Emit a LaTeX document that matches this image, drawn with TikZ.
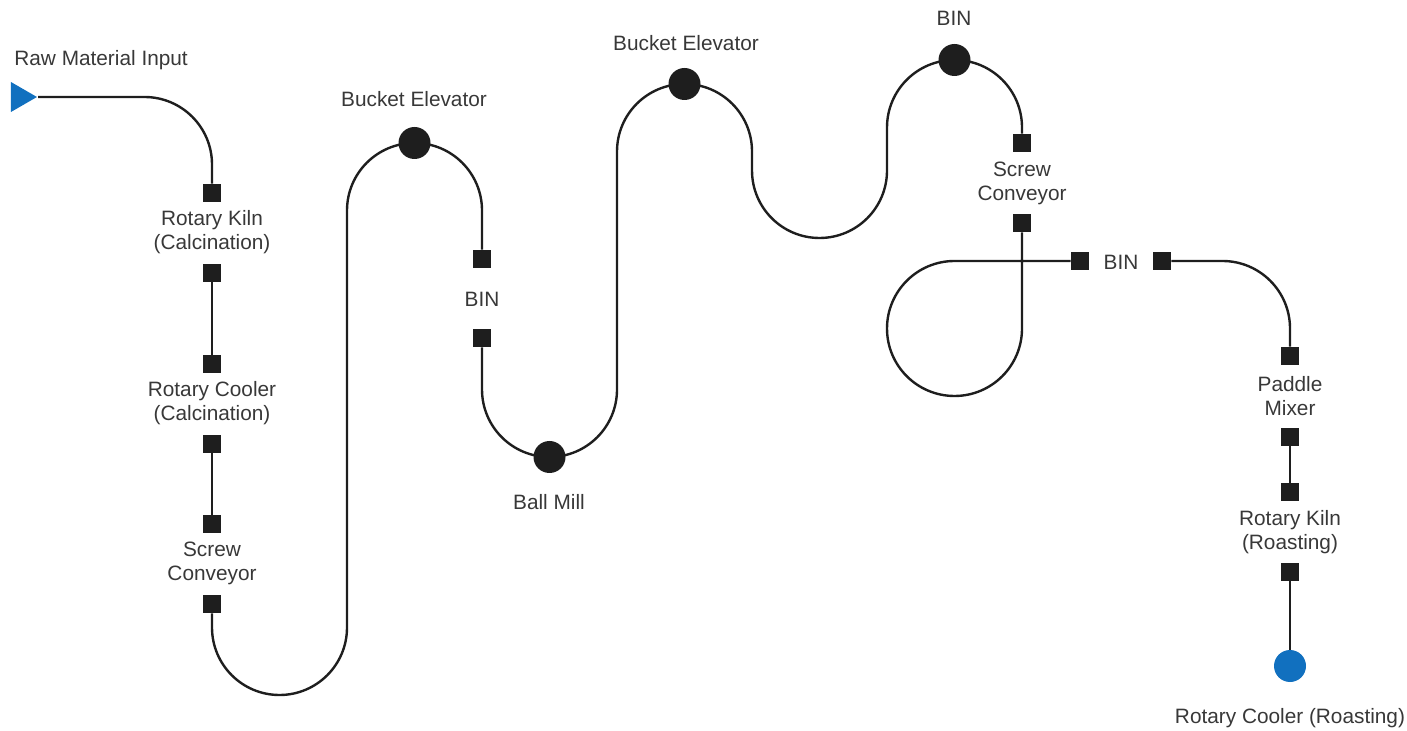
\documentclass[tikz,border=0pt]{standalone}
\usepackage{fontspec}
\setmainfont{Liberation Sans}
\usetikzlibrary{shapes.geometric}
\definecolor{ink}{HTML}{1E1E1E}
\definecolor{txt}{HTML}{383838}
\definecolor{flowblue}{HTML}{1170BF}
\begin{document}
\begin{tikzpicture}[x=0.5pt, y=-0.5pt,
	port/.style={rectangle, fill=ink, minimum size=9pt, inner sep=0pt},
	unit/.style={circle, fill=ink, minimum size=16pt, inner sep=0pt},
	lbl/.style={text=txt, align=center, inner sep=0pt, font=\fontsize{10.4}{12}\selectfont},
	flow/.style={draw=ink, line width=1.2pt, rounded corners=33.75pt}]
	\useasboundingbox (0,0) rectangle (1407,731);
	\node [isosceles triangle, isosceles triangle stretches, fill=flowblue,
	       minimum width=15pt, minimum height=13pt, inner sep=0pt, anchor=apex] (inp) at (38,97) {};
	\node [lbl, anchor=west] (inplbl) at (14,60) {Raw Material Input};
	\node [port] (kilnA) at (212,193) {};
	\node [lbl]  (kilnlbl) at (212,232) {Rotary Kiln\\(Calcination)};
	\node [port] (kilnB) at (212,273) {};
	\node [port] (coolA) at (212,364) {};
	\node [lbl]  (coollbl) at (212,403) {Rotary Cooler\\(Calcination)};
	\node [port] (coolB) at (212,444) {};
	\node [port] (scrA) at (212,524) {};
	\node [lbl]  (scrlbl) at (212,563) {Screw\\Conveyor};
	\node [port] (scrB) at (212,604) {};
	\node [unit] (elevA) at (414.5,143) {};
	\node [lbl]  (elevAlbl) at (414,99) {Bucket Elevator};
	\node [port] (binA) at (482,259) {};
	\node [lbl]  (binAlbl) at (482,299) {BIN};
	\node [port] (binB) at (482,338) {};
	\node [unit] (mill) at (549.5,457) {};
	\node [lbl]  (milllbl) at (549,502) {Ball Mill};
	\node [unit] (elevB) at (684.5,84) {};
	\node [lbl]  (elevBlbl) at (686,43) {Bucket Elevator};
	\node [unit] (binC) at (954.5,60) {};
	\node [lbl]  (binClbl) at (954,18) {BIN};
	\node [port] (scrC) at (1022,143) {};
	\node [lbl]  (scrClbl) at (1022,183) {Screw\\Conveyor};
	\node [port] (scrD) at (1022,223) {};
	\node [port] (binD) at (1080,261) {};
	\node [lbl]  (binDlbl) at (1121,262) {BIN};
	\node [port] (binE) at (1162,261) {};
	\node [port] (mixA) at (1290,356) {};
	\node [lbl]  (mixlbl) at (1290,396) {Paddle\\Mixer};
	\node [port] (mixB) at (1290,437) {};
	\node [port] (roastA) at (1290,492) {};
	\node [lbl]  (roastlbl) at (1290,532) {Rotary Kiln\\(Roasting)};
	\node [port] (roastB) at (1290,572) {};
	\node [circle, fill=flowblue, minimum size=16pt, inner sep=0pt] (out) at (1290,666) {};
	\node [lbl]  (outlbl) at (1290,718) {Rotary Cooler (Roasting)};
	\draw [flow] (inp.apex) -| (kilnA);
	\draw [flow] (kilnB) -- (coolA);
	\draw [flow] (coolB) -- (scrA);
	\draw [flow] (scrB) -- (212,695) -- (347,695) -- (347,143) -- (elevA.center);
	\draw [flow] (elevA.center) -- (482,143) -- (binA);
	\draw [flow] (binB) -- (482,457) -- (mill.center);
	\draw [flow] (mill.center) -- (617,457) -- (617,84) -- (elevB.center);
	\draw [flow] (elevB.center) -- (752,84) -- (752,238) -- (887,238) -- (887,60) -- (binC.center);
	\draw [flow] (binC.center) -- (1022,60) -- (scrC);
	\draw [flow] (scrD) -- (1022,396) -- (887,396) -- (887,261) -- (binD);
	\draw [flow] (binE) -| (mixA);
	\draw [flow] (mixB) -- (roastA);
	\draw [flow] (roastB) -- (out);
\end{tikzpicture}
\end{document}
